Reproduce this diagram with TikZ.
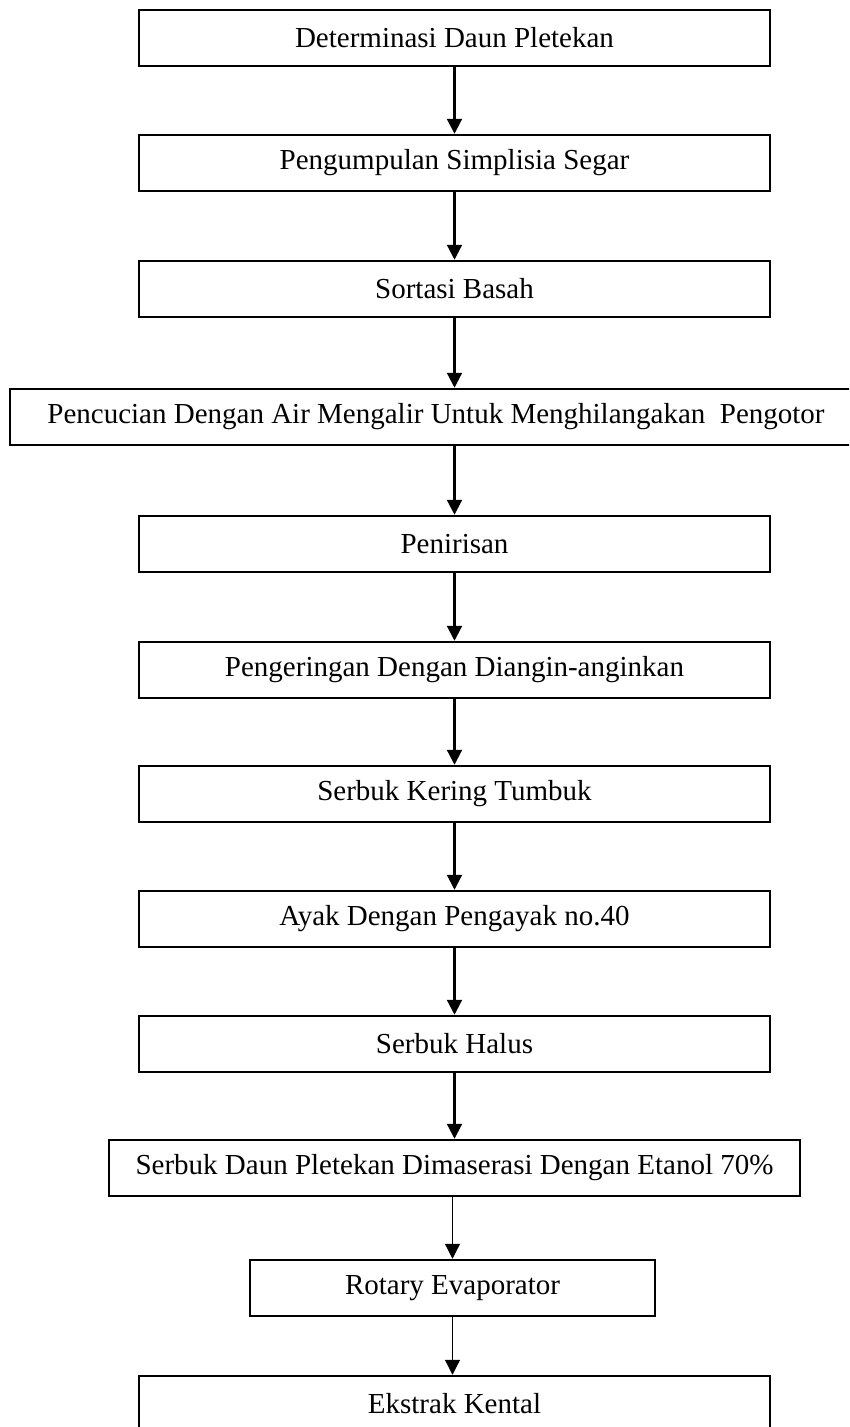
\documentclass[tikz,border=0pt]{standalone}
\usepackage{fontspec}
\setmainfont{Liberation Serif}
\usetikzlibrary{arrows.meta}
\begin{document}
\begin{tikzpicture}[x=1pt,y=-1pt,
  box/.style={draw=black, line width=2.5pt, inner sep=0pt, minimum height=56pt,
    font=\fontsize{29}{34}\selectfont},
  mainbox/.style={box, minimum width=631pt},
  flow/.style={line width=2.2pt, -{Triangle[length=15pt,width=15pt]}},
  thinflow/.style={line width=1.2pt, -{Triangle[length=15pt,width=15pt]}}]
\clip (0,0) rectangle (849,1427);
\fill[white] (0,0) rectangle (849,1427);
\node[mainbox] (b1) at (454.5,38) {Determinasi Daun Pletekan};
\node[mainbox] (b2) at (454.5,163) {Pengumpulan Simplisia Segar};
\node[mainbox] (b3) at (454.5,289) {Sortasi Basah};
\node[box, minimum width=852pt] (b4) at (436,417) {Pencucian Dengan Air Mengalir Untuk Menghilangakan\ \ Pengotor};
\node[mainbox] (b5) at (454.5,544) {Penirisan};
\node[mainbox] (b6) at (454.5,670) {Pengeringan Dengan Diangin-anginkan};
\node[mainbox] (b7) at (454.5,794) {Serbuk Kering Tumbuk};
\node[mainbox] (b8) at (454.5,919) {Ayak Dengan Pengayak no.40};
\node[mainbox] (b9) at (454.5,1044) {Serbuk Halus};
\node[box, minimum width=691pt] (b10) at (454.5,1168) {Serbuk Daun Pletekan Dimaserasi Dengan Etanol 70\%};
\node[box, minimum width=405pt] (b11) at (452.5,1288) {Rotary Evaporator};
\node[mainbox] (b12) at (454.5,1404) {Ekstrak Kental};
\draw[flow] (b1.south) -- (b2.north);
\draw[flow] (b2.south) -- (b3.north);
\draw[flow] (b3.south) -- (b3.south |- b4.north);
\draw[flow] (b5.north |- b4.south) -- (b5.north);
\draw[flow] (b5.south) -- (b6.north);
\draw[flow] (b6.south) -- (b7.north);
\draw[flow] (b7.south) -- (b8.north);
\draw[flow] (b8.south) -- (b9.north);
\draw[flow] (b9.south) -- (b10.north);
\draw[thinflow] (b11.north |- b10.south) -- (b11.north);
\draw[thinflow] (b11.south) -- (b11.south |- b12.north);
\end{tikzpicture}
\end{document}
